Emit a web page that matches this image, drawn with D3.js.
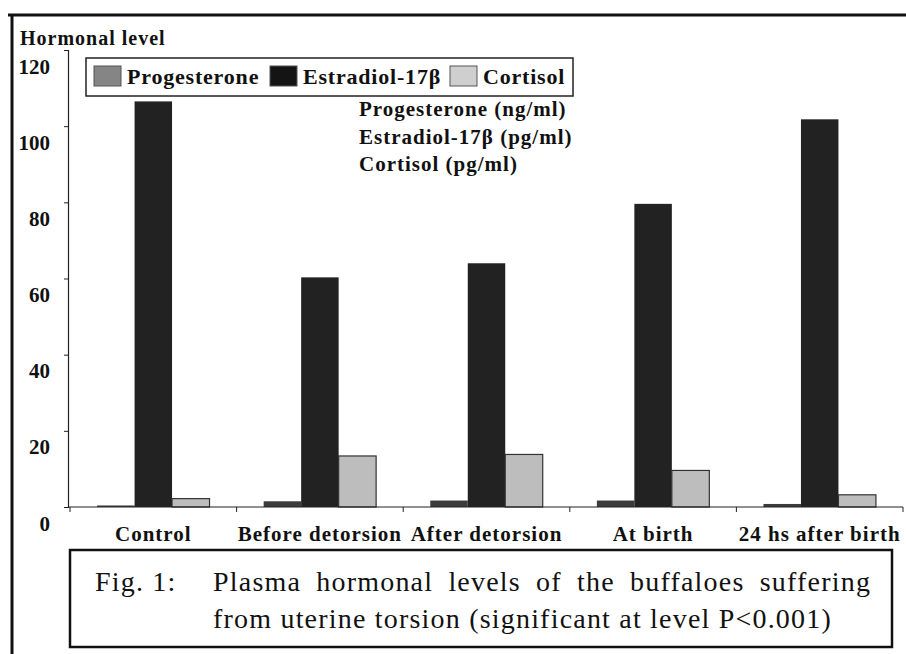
<!DOCTYPE html>
<html>
<head>
<meta charset="utf-8">
<script src="https://cdn.jsdelivr.net/npm/d3@7"></script>
<style>
  body { margin: 0; background: #fff; }
  svg { display: block; font-family: "Liberation Serif", "DejaVu Serif", serif; }
</style>
</head>
<body>
<svg width="906" height="654"></svg>
<script>
var width = 906;
var height = 654;
var margin = {top: 50, left: 68, right: 3, bottom: 146};

var categories = ['Control', 'Before detorsion', 'After detorsion', 'At birth', '24 hs after birth'];
var seriesNames = ['Progesterone', 'Estradiol-17β', 'Cortisol'];
var progesterone = [0.4, 1.5, 1.7, 1.7, 0.8];
var estradiol = [106.5, 60.3, 64, 79.6, 101.8];
var cortisol = [2.2, 13.4, 13.8, 9.6, 3.2];
var yTicks = [0, 20, 40, 60, 80, 100, 120];
var unitLines = ['Progesterone (ng/ml)', 'Estradiol-17β (pg/ml)', 'Cortisol (pg/ml)'];

var colors = d3.scaleOrdinal()
  .domain(seriesNames)
  .range(['#3c3c3c', '#222', '#bdbdbd']);
var swatchColors = d3.scaleOrdinal()
  .domain(seriesNames)
  .range(['#858585', '#141414', '#cfcfcf']);

var data = categories.map((c, i) => {
  return {cat: c, values: [progesterone[i], estradiol[i], cortisol[i]]};
});

var svg = d3.select('svg');

// scanned frame
svg.append('line')
  .attr('x1', 8).attr('x2', width).attr('y1', 15).attr('y2', 15)
  .attr('stroke', '#111').attr('stroke-width', 3);
svg.append('line')
  .attr('x1', 12).attr('x2', 12).attr('y1', 14).attr('y2', height)
  .attr('stroke', '#111').attr('stroke-width', 3);

var yScale = d3.scaleLinear()
  .domain([0, 120])
  .range([height - margin.bottom - 1, margin.top]);

var xScale = d3.scaleBand()
  .domain(categories)
  .range([70, width - margin.right])
  .paddingInner(0.325)
  .paddingOuter(0.1625);

var xInner = d3.scaleBand()
  .domain(seriesNames)
  .range([0, xScale.bandwidth()]);

// y axis
var yAxis = d3.axisLeft(yScale)
  .tickValues(yTicks)
  .tickSize(4)
  .tickPadding(14);

var yg = svg.append('g')
  .attr('transform', `translate(${margin.left}, 0)`)
  .call(yAxis);
yg.select('.domain').attr('stroke', '#222').attr('stroke-width', 1.2);
yg.selectAll('.tick line').attr('stroke', '#222');
yg.selectAll('.tick text')
  .attr('dy', '1.1em')
  .attr('fill', '#111')
  .attr('font-size', 21)
  .attr('font-weight', 'bold')
  .attr('font-family', '"Liberation Serif", serif');

svg.append('text')
  .attr('x', 20)
  .attr('y', 45)
  .attr('font-size', 20)
  .attr('font-weight', 'bold')
  .attr('letter-spacing', 1)
  .attr('fill', '#111')
  .text('Hormonal level');

// bars
var groups = svg.selectAll('.group')
  .data(data)
  .enter()
  .append('g')
  .attr('class', 'group')
  .attr('transform', (d) => `translate(${xScale(d.cat)}, 0)`);

groups.selectAll('rect')
  .data((d) => d.values.map((v, i) => ({name: seriesNames[i], value: v})))
  .enter()
  .append('rect')
  .attr('x', (d) => xInner(d.name))
  .attr('width', xInner.bandwidth())
  .attr('y', (d) => yScale(d.value))
  .attr('height', (d) => yScale(0) - yScale(d.value))
  .attr('fill', (d) => colors(d.name))
  .attr('stroke', (d) => d.name === 'Cortisol' ? '#333' : 'none')
  .attr('stroke-width', 1.2);

// x axis: line with ticks at band boundaries
var y0 = yScale(0);
svg.append('line')
  .attr('x1', margin.left).attr('x2', width - margin.right)
  .attr('y1', y0).attr('y2', y0)
  .attr('stroke', '#222').attr('stroke-width', 1.2);

var step = xScale.step();
var bounds = categories.map((c) => xScale(c) - step * xScale.paddingOuter());
bounds.push(width - margin.right);
svg.selectAll('.xtick')
  .data(bounds)
  .enter()
  .append('line')
  .attr('x1', (d) => d).attr('x2', (d) => d)
  .attr('y1', y0).attr('y2', y0 + 5)
  .attr('stroke', '#222');

svg.selectAll('.xlabel')
  .data(categories)
  .enter()
  .append('text')
  .attr('x', (d) => xScale(d) + xScale.bandwidth() / 2)
  .attr('y', 541)
  .attr('text-anchor', 'middle')
  .attr('font-size', 21)
  .attr('font-weight', 'bold')
  .attr('letter-spacing', 1)
  .attr('fill', '#111')
  .text((d) => d);

// legend
var legend = svg.append('g');
legend.append('rect')
  .attr('x', 86).attr('y', 58)
  .attr('width', 487).attr('height', 38)
  .attr('fill', '#fff')
  .attr('stroke', '#222').attr('stroke-width', 1.5);

var legendX = [94, 270, 450];
var legendItems = legend.selectAll('.item')
  .data(seriesNames)
  .enter()
  .append('g')
  .attr('transform', (d, i) => `translate(${legendX[i]}, 66)`);
legendItems.append('rect')
  .attr('width', 27).attr('height', 20)
  .attr('fill', (d) => swatchColors(d))
  .attr('stroke', '#555');
legendItems.append('text')
  .attr('x', 33)
  .attr('y', 18)
  .attr('font-size', 22)
  .attr('font-weight', 'bold')
  .attr('letter-spacing', 0.8)
  .attr('fill', '#111')
  .text((d) => d);

svg.selectAll('.unit')
  .data(unitLines)
  .enter()
  .append('text')
  .attr('x', 359)
  .attr('y', (d, i) => 116 + i * 27.5)
  .attr('font-size', 21)
  .attr('font-weight', 'bold')
  .attr('letter-spacing', 1)
  .attr('fill', '#111')
  .text((d) => d);

// caption box
svg.append('rect')
  .attr('x', 70).attr('y', 550)
  .attr('width', 822).attr('height', 97)
  .attr('fill', '#fff')
  .attr('stroke', '#111').attr('stroke-width', 2.5);

svg.append('text')
  .attr('x', 95).attr('y', 591)
  .attr('font-size', 28)
  .attr('letter-spacing', 1.2)
  .attr('fill', '#111')
  .text('Fig. 1:');
svg.append('text')
  .attr('x', 213).attr('y', 591)
  .attr('font-size', 28)
  .attr('letter-spacing', 1.2)
  .attr('word-spacing', 7)
  .attr('fill', '#111')
  .text('Plasma hormonal levels of the buffaloes suffering');
svg.append('text')
  .attr('x', 213).attr('y', 628)
  .attr('font-size', 28)
  .attr('letter-spacing', 1.2)
  .attr('fill', '#111')
  .text('from uterine torsion (significant at level P<0.001)');
</script>
</body>
</html>
